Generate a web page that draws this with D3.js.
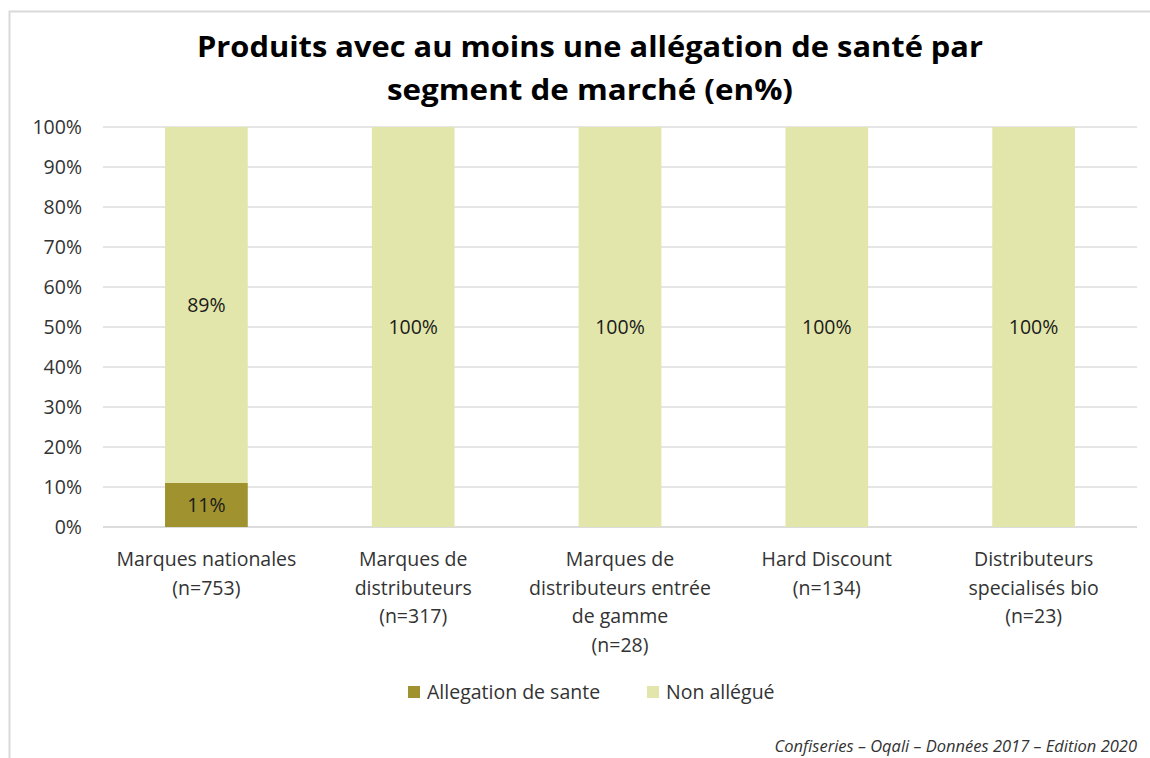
<!DOCTYPE html>
<html>
<head>
<meta charset="utf-8">
<script src="https://cdn.jsdelivr.net/npm/d3@7"></script>
<style>
  body { margin: 0; background: #fff; }
  svg { font-family: "Open Sans", "Liberation Sans", sans-serif; }
</style>
</head>
<body>
<div id="chart"></div>
<script>
// Data
const categories = [
  ["Marques nationales", "(n=753)"],
  ["Marques de", "distributeurs", "(n=317)"],
  ["Marques de", "distributeurs entrée", "de gamme", "(n=28)"],
  ["Hard Discount", "(n=134)"],
  ["Distributeurs", "specialisés bio", "(n=23)"]
];
const seriesNames = ["Allegation de sante", "Non allégué"];
const allegation = [11, 0, 0, 0, 0];
const nonAllegue = [89, 100, 100, 100, 100];
const yTicks = [0, 10, 20, 30, 40, 50, 60, 70, 80, 90, 100];
const colors = ["#A0922F", "#E2E6AA"];

const width = 1150, height = 758;
const margin = {top: 127, right: 13, bottom: 231, left: 103};
const innerW = width - margin.left - margin.right;
const innerH = height - margin.top - margin.bottom;
const fs = "19.5px";

const svg = d3.select("#chart").append("svg")
    .attr("width", width)
    .attr("height", height);

// chart frame
svg.append("path")
    .attr("d", "M9.5,758 L9.5,11.5 L1150,11.5")
    .attr("fill", "none")
    .attr("stroke", "#d9d9d9")
    .attr("stroke-width", 2);

// Title
const title = svg.append("text")
    .attr("text-anchor", "middle")
    .attr("font-weight", "bold")
    .attr("font-size", "29px")
    .attr("fill", "#000");
title.append("tspan").attr("x", 590).attr("y", 57)
    .attr("textLength", 786).attr("lengthAdjust", "spacingAndGlyphs")
    .text("Produits avec au moins une allégation de santé par");
title.append("tspan").attr("x", 590).attr("y", 100)
    .attr("textLength", 406).attr("lengthAdjust", "spacingAndGlyphs")
    .text("segment de marché (en%)");

const g = svg.append("g")
    .attr("transform", "translate(" + margin.left + "," + margin.top + ")");

const x = d3.scaleBand()
    .domain(d3.range(categories.length))
    .range([0, innerW])
    .paddingInner(0.6)
    .paddingOuter(0.3);

const y = d3.scaleLinear()
    .domain([0, 100])
    .range([innerH, 0]);

// Gridlines
g.append("g")
    .selectAll("line")
    .data(yTicks)
    .join("line")
    .attr("x1", 0).attr("x2", innerW)
    .attr("y1", d => y(d)).attr("y2", d => y(d))
    .attr("stroke", d => d === 0 ? "#d0d0d0" : "#dedede")
    .attr("stroke-width", 1.5);

// Y axis
const yAxis = g.append("g")
    .call(d3.axisLeft(y).tickValues(yTicks).tickFormat(d => d + "%").tickSize(0).tickPadding(21));
yAxis.select(".domain").remove();
yAxis.selectAll("text")
    .attr("font-size", fs)
    .attr("font-family", "\"Open Sans\", sans-serif")
    .attr("fill", "#333");

// Stacked bars
const rows = categories.map((c, i) => ({i: i, a: allegation[i], b: nonAllegue[i]}));
const stack = d3.stack().keys(["a", "b"])(rows);

g.selectAll("g.series")
    .data(stack)
    .join("g")
    .attr("class", "series")
    .attr("fill", (d, k) => colors[k])
    .selectAll("rect")
    .data(d => d)
    .join("rect")
    .attr("x", d => x(d.data.i))
    .attr("width", x.bandwidth())
    .attr("y", d => y(d[1]))
    .attr("height", d => y(d[0]) - y(d[1]));

// Data labels
stack.forEach(s => {
  g.append("g")
    .selectAll("text")
    .data(s.filter(d => d[1] - d[0] > 0))
    .join("text")
    .attr("x", d => x(d.data.i) + x.bandwidth() / 2)
    .attr("y", d => (y(d[0]) + y(d[1])) / 2)
    .attr("dy", "0.35em")
    .attr("text-anchor", "middle")
    .attr("font-size", fs)
    .attr("fill", "#1a1a1a")
    .text(d => Math.round(d[1] - d[0]) + "%");
});

// Category labels
const xl = g.append("g").attr("transform", "translate(0," + innerH + ")");
categories.forEach((lines, i) => {
  const t = xl.append("text")
    .attr("text-anchor", "middle")
    .attr("font-size", fs)
    .attr("fill", "#333");
  lines.forEach((line, j) => {
    t.append("tspan")
      .attr("x", x(i) + x.bandwidth() / 2)
      .attr("y", 39 + j * 28.5)
      .text(line);
  });
});

// Legend
const legendX = [408, 647];
const legend = svg.append("g");
seriesNames.forEach((name, k) => {
  legend.append("rect")
    .attr("x", legendX[k]).attr("y", 686)
    .attr("width", 12).attr("height", 12)
    .attr("fill", colors[k]);
  legend.append("text")
    .attr("x", legendX[k] + 19).attr("y", 692)
    .attr("dy", "0.35em")
    .attr("font-size", fs)
    .attr("fill", "#333")
    .text(name);
});

// Source note
svg.append("text")
    .attr("x", 1137).attr("y", 752)
    .attr("text-anchor", "end")
    .attr("font-style", "italic")
    .attr("font-size", "16.5px")
    .attr("fill", "#333")
    .text("Confiseries – Oqali – Données 2017 – Edition 2020");
</script>
</body>
</html>
